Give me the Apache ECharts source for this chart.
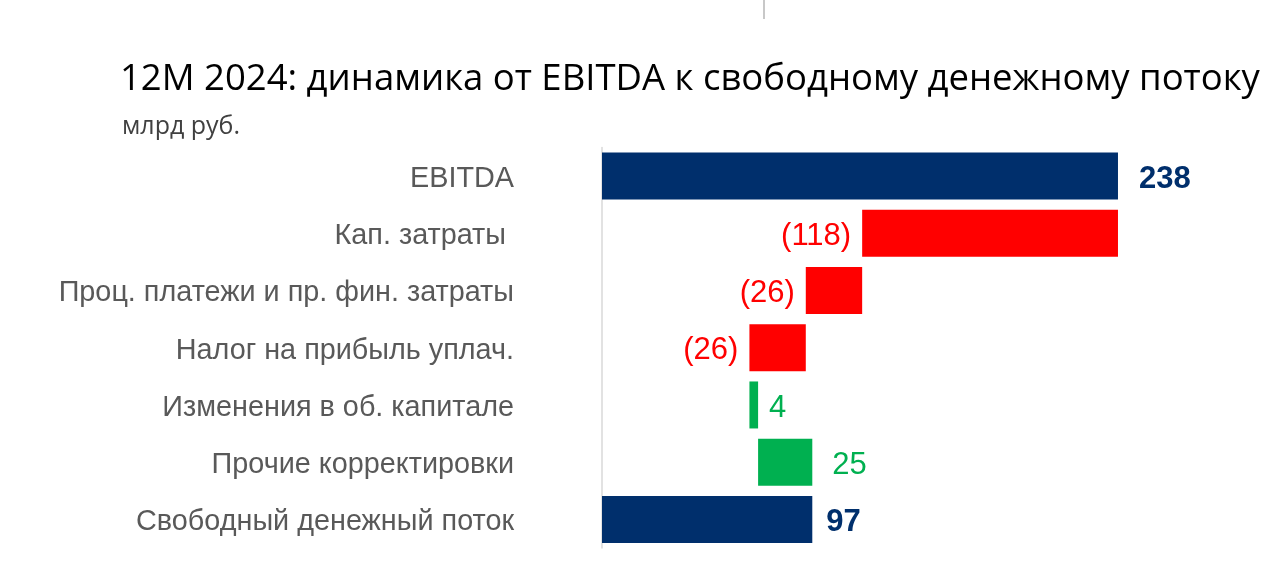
<!DOCTYPE html>
<html>
<head>
<meta charset="utf-8">
<script src="https://cdn.jsdelivr.net/npm/echarts@6/dist/echarts.min.js"></script>
<style>
html, body { margin: 0; padding: 0; background: #fff; }
#chart { width: 1288px; height: 570px; }
</style>
</head>
<body>
<div id="chart"></div>
<script>
// категории и значения (млрд руб.)
var categories = ['EBITDA', 'Кап. затраты ', 'Проц. платежи и пр. фин. затраты', 'Налог на прибыль уплач.', 'Изменения в об. капитале', 'Прочие корректировки', 'Свободный денежный поток']
var values = [238, -118, -26, -26, 4, 25, 97]
var kinds = ['total', 'delta', 'delta', 'delta', 'delta', 'delta', 'total']

var NAVY = '#002f6c'
var RED = '#ff0000'
var GREEN = '#00b050'

// невидимое основание и видимая часть для водопада
var base = []
var shown = []
var running = 0
for (var i = 0; i < values.length; i++) {
	var v = values[i]
	var color, lbl
	if (kinds[i] == 'total') {
		base.push(0)
		running = v
		color = NAVY
		lbl = { show: true, position: 'right', distance: i == 0 ? 21 : 14, color: NAVY, fontWeight: 'bold', formatter: String(v) }
	} else if (v < 0) {
		running = running + v
		base.push(running)
		color = RED
		lbl = { show: true, position: 'left', distance: 11, color: RED, formatter: '(' + Math.abs(v) + ')' }
	} else {
		base.push(running)
		running = running + v
		color = GREEN
		lbl = { show: true, position: 'right', distance: v < 10 ? 11 : 20, color: GREEN, formatter: String(v) }
	}
	shown.push({ value: Math.abs(v), itemStyle: { color: color }, label: lbl })
}

var myChart = echarts.init(document.getElementById('chart'))
myChart.setOption({
	animation: false,
	title: [{
		text: '12M 2024: динамика от EBITDA к свободному денежному потоку',
		left: 115,
		top: 56,
		textStyle: { fontFamily: 'Open Sans', fontSize: 36.5, fontWeight: 'normal', color: '#000' }
	}, {
		text: 'млрд руб.',
		left: 117,
		top: 109,
		textStyle: { fontFamily: 'Open Sans', fontSize: 25, fontWeight: 'normal', color: '#404040' }
	}],
	graphic: [{
		type: 'line',
		shape: { x1: 764, y1: 0, x2: 764, y2: 19 },
		style: { stroke: '#c8c8c8', lineWidth: 2 }
	}],
	grid: {
		left: 602,
		top: 147.5,
		width: 650.4,
		height: 400.5
	},
	xAxis: {
		type: 'value',
		min: 0,
		max: 300,
		show: false
	},
	yAxis: {
		type: 'category',
		inverse: true,
		data: categories,
		axisLine: { show: true, lineStyle: { color: '#d9d9d9', width: 1.5 } },
		axisTick: { show: false },
		axisLabel: {
			margin: 88,
			formatter: function(val) {
				return '{c|' + val + '}'
			},
			rich: {
				c: {
					fontFamily: 'Liberation Sans',
					fontSize: 28.8,
					color: '#595959',
					padding: [6, 0, 0, 0]
				}
			}
		}
	},
	series: [{
		type: 'bar',
		stack: 'wf',
		silent: true,
		itemStyle: { color: 'transparent' },
		data: base,
		barWidth: 47
	}, {
		type: 'bar',
		stack: 'wf',
		barWidth: 47,
		label: { fontFamily: 'Liberation Sans', fontSize: 31, offset: [0, 3] },
		data: shown
	}]
})
</script>
</body>
</html>
